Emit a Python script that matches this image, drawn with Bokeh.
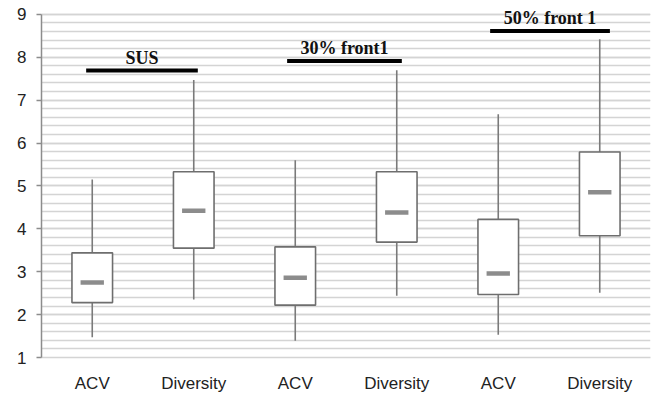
from bokeh.plotting import figure
from bokeh.models import ColumnDataSource, FixedTicker, Range1d, LabelSet
from bokeh.embed import file_html
from bokeh.resources import INLINE

# ---- data ----
categories = ["ACV", "Diversity", "ACV", "Diversity", "ACV", "Diversity"]
whisker_low = [1.47, 2.35, 1.39, 2.44, 1.53, 2.51]
q1 = [2.28, 3.55, 2.22, 3.69, 2.47, 3.84]
median = [2.75, 4.42, 2.86, 4.38, 2.96, 4.85]
q3 = [3.44, 5.33, 3.58, 5.33, 4.22, 5.79]
whisker_high = [5.15, 7.47, 5.60, 7.70, 6.67, 8.42]

group_labels = ["SUS", "30% front1", "50% front 1"]
group_bar_level = [7.69, 7.91, 8.61]

y_ticks = [1, 2, 3, 4, 5, 6, 7, 8, 9]
y_minor_step = 0.2

# ---- geometry derived from category index ----
xc = [i + 0.5 for i in range(len(categories))]
box_w = 0.40
med_w = 0.23

src = ColumnDataSource(dict(
    x=xc, lo=whisker_low, q1=q1, med=median, q3=q3, hi=whisker_high,
    l=[x - box_w / 2 for x in xc], r=[x + box_w / 2 for x in xc],
    ml=[x - med_w / 2 for x in xc], mr=[x + med_w / 2 for x in xc],
))

gx0 = [xc[0] - 0.06, xc[2] - 0.08, xc[4] - 0.08]
gx1 = [xc[1] + 0.04, xc[3] + 0.05, xc[5] + 0.10]
gsrc = ColumnDataSource(dict(
    x0=gx0, x1=gx1, y=group_bar_level,
    xm=[(a + b) / 2 for a, b in zip(gx0, gx1)],
    label=group_labels,
))

n_minor = int(round((y_ticks[-1] - y_ticks[0]) / y_minor_step))
minor = [y_ticks[0] + y_minor_step * i for i in range(n_minor + 1)]

p = figure(width=652, height=395, output_backend="svg", toolbar_location=None,
           x_range=Range1d(0, len(categories)), y_range=Range1d(y_ticks[0], y_ticks[-1] + 0.3),
           min_border_left=41, min_border_right=2, min_border_top=1, min_border_bottom=32)
p.outline_line_color = None
p.background_fill_color = "white"

# grid
p.xgrid.grid_line_color = None
p.yaxis.ticker = FixedTicker(ticks=y_ticks, minor_ticks=minor)
p.ygrid.grid_line_color = "#d4d4d4"
p.ygrid.grid_line_width = 1.5
p.ygrid.minor_grid_line_color = "#d4d4d4"
p.ygrid.minor_grid_line_width = 1.5

# y axis
p.yaxis.bounds = (y_ticks[0], y_ticks[-1])
p.yaxis.axis_line_color = "#8c8c8c"
p.yaxis.axis_line_width = 1.5
p.yaxis.major_tick_line_color = "#8c8c8c"
p.yaxis.major_tick_line_width = 1.5
p.yaxis.major_tick_out = 5
p.yaxis.major_tick_in = 0
p.yaxis.minor_tick_line_color = None
p.yaxis.major_label_text_font = "Liberation Sans"
p.yaxis.major_label_text_font_size = "17px"
p.yaxis.major_label_text_color = "#222222"
p.yaxis.major_label_standoff = 10

# x axis
p.xaxis.ticker = FixedTicker(ticks=xc)
p.xaxis.major_label_overrides = {x: c for x, c in zip(xc, categories)}
p.xaxis.axis_line_color = "#d4d4d4"
p.xaxis.axis_line_width = 1.5
p.xaxis.major_tick_line_color = None
p.xaxis.minor_tick_line_color = None
p.xaxis.major_label_text_font = "Liberation Sans"
p.xaxis.major_label_text_font_size = "17px"
p.xaxis.major_label_text_color = "#222222"
p.xaxis.major_label_standoff = 10

# whiskers
p.segment(x0="x", y0="q3", x1="x", y1="hi", source=src, line_color="#7a7a7a", line_width=1.6)
p.segment(x0="x", y0="lo", x1="x", y1="q1", source=src, line_color="#7a7a7a", line_width=1.6)
# boxes
p.quad(left="l", right="r", bottom="q1", top="q3", source=src,
       fill_color="white", line_color="#6e6e6e", line_width=1.6)
# medians
p.segment(x0="ml", y0="med", x1="mr", y1="med", source=src, line_color="#8c8c8c", line_width=4.5)

# group bars and labels
p.segment(x0="x0", y0="y", x1="x1", y1="y", source=gsrc, line_color="black", line_width=4)
labels = LabelSet(x="xm", y="y", text="label", source=gsrc, y_offset=7,
                  text_align="center", text_baseline="alphabetic",
                  text_font="Liberation Serif", text_font_style="bold", text_font_size="18px",
                  text_color="#111111")
p.add_layout(labels)

open("out.html", "w").write(file_html(p, INLINE))
